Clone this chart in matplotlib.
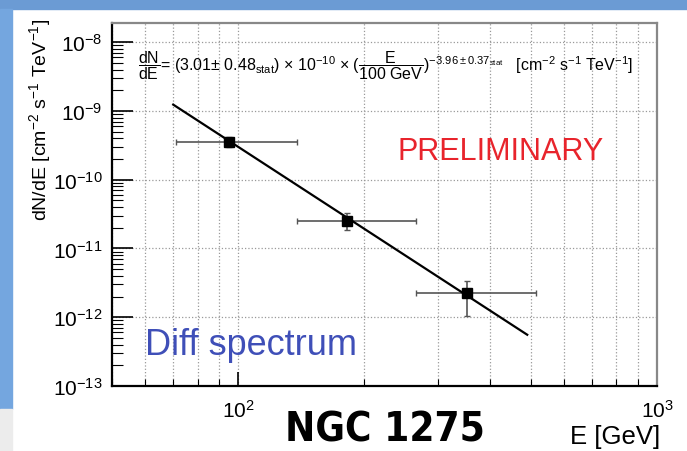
import numpy as np
import matplotlib
matplotlib.use("Agg")
import matplotlib.pyplot as plt
from matplotlib.patches import Rectangle
from matplotlib.ticker import LogLocator, NullFormatter

plt.rcParams['font.family'] = ['Liberation Sans', 'DejaVu Sans']
plt.rcParams['mathtext.fontset'] = 'custom'
plt.rcParams['mathtext.rm'] = 'Liberation Sans'
plt.rcParams['mathtext.it'] = 'Liberation Sans:italic'
plt.rcParams['mathtext.bf'] = 'Liberation Sans:bold'

# spectral points (GeV, cm^-2 s^-1 TeV^-1)
energy = [95, 182, 352]
energy_lo = [71, 138, 266]
energy_hi = [138, 266, 514]
flux = [3.55e-10, 2.50e-11, 2.25e-12]
flux_lo = [2.98e-10, 1.85e-11, 1.04e-12]
flux_hi = [4.20e-10, 3.27e-11, 3.36e-12]

# power-law fit
norm = 3.01e-10
index = -3.96
e_ref = 100.0
fit_range = [70, 490]

y_decades = [1e-13, 1e-12, 1e-11, 1e-10, 1e-9, 1e-8]
x_decades = [1e2, 1e3]

fig = plt.figure(figsize=(6.87, 4.52), dpi=100)
fig.patch.set_facecolor('white')

# slide background around the plot
fig.patches.append(Rectangle((0, 1 - 10 / 452), 1, 10 / 452, transform=fig.transFigure,
                             color='#6b9bd4', zorder=0))
fig.patches.append(Rectangle((0, 1 - 410 / 452), 12 / 687, 400 / 452, transform=fig.transFigure,
                             color='#74a6df', zorder=0))
fig.patches.append(Rectangle((0, 0), 12 / 687, 42 / 452, transform=fig.transFigure,
                             color='#ececec', zorder=0))

ax = fig.add_axes([112 / 687, 1 - 387 / 452, 545 / 687, 363 / 452])
ax.set_xscale('log')
ax.set_yscale('log')
ax.set_xlim(50, 1000)
ax.set_ylim(1e-13, 1.9e-8)

x = np.array(energy)
y = np.array(flux)
xerr = [x - np.array(energy_lo), np.array(energy_hi) - x]
yerr = [y - np.array(flux_lo), np.array(flux_hi) - y]
ax.errorbar(x, y, xerr=xerr, yerr=yerr, fmt='none', ecolor='#555555',
            elinewidth=1.2, capsize=2.5, capthick=1, zorder=3)
ax.plot(x, y, 's', color='black', markersize=7, zorder=4)

ef = np.array(fit_range, dtype=float)
ax.plot(ef, norm * (ef / e_ref) ** index, color='black', lw=1.6, zorder=3)

# axes styling
ax.set_xticks(x_decades)
ax.xaxis.set_minor_locator(LogLocator(base=10, subs=np.arange(2, 10)))
ax.xaxis.set_minor_formatter(NullFormatter())
ax.set_yticks(y_decades)
ax.yaxis.set_minor_locator(LogLocator(base=10, subs=np.arange(2, 10), numticks=20))
ax.yaxis.set_minor_formatter(NullFormatter())
ax.grid(True, which='major', axis='y', color='#999999', linestyle=':', lw=0.9)
ax.grid(True, which='both', axis='x', color='#999999', linestyle=':', lw=0.9)

ax.tick_params(axis='both', which='both', direction='in', top=False, right=False,
               colors='black', labelsize=15)
ax.tick_params(axis='y', which='major', length=15, width=1.2, pad=7)
ax.tick_params(axis='y', which='minor', length=8, width=0.8)
ax.tick_params(axis='x', which='major', length=10, width=1.2, pad=9)
ax.tick_params(axis='x', which='minor', length=5, width=0.8)

for side in ('left', 'bottom'):
    ax.spines[side].set_color('black')
    ax.spines[side].set_linewidth(1.6)
for side in ('top', 'right'):
    ax.spines[side].set_color('#888888')
    ax.spines[side].set_linewidth(1.6)

fig.text(40 / 687, 1 - 120 / 452, r'dN/dE [cm$^{-2}$ s$^{-1}$ TeV$^{-1}$]',
         rotation=90, ha='center', va='center', fontsize=14)
fig.text(660 / 687, 1 - 437 / 452, 'E [GeV]', ha='right', va='center', fontsize=18.5)

formula = (r'$\dfrac{\mathrm{dN}}{\mathrm{dE}}$= (3.01$\pm$ 0.48$_{\mathrm{stat}}$) $\times$ 10$^{-10}$ $\times$ '
           r'($\dfrac{\mathrm{E}}{\mathrm{100\ GeV}}$)$^{-3.96 \pm 0.37_{\mathrm{stat}}}$   '
           r'[cm$^{-2}$ s$^{-1}$ TeV$^{-1}$]')
fig.text(138 / 687, 1 - 66 / 452, formula, ha='left', va='center', fontsize=11.5)

fig.text(398 / 687, 1 - 152 / 452, 'PRELIMINARY', ha='left', va='center',
         fontsize=22, color='#e8242c')
fig.text(145 / 687, 1 - 346 / 452, 'Diff spectrum', ha='left', va='center',
         fontsize=26, color='#3f4fb8')
fig.text(385 / 687, 1 - 431 / 452, 'NGC 1275', ha='center', va='center',
         fontsize=29, fontweight='bold', fontstretch='condensed',
         family=['DejaVu Sans'])

fig.savefig('out.png', dpi=100)
